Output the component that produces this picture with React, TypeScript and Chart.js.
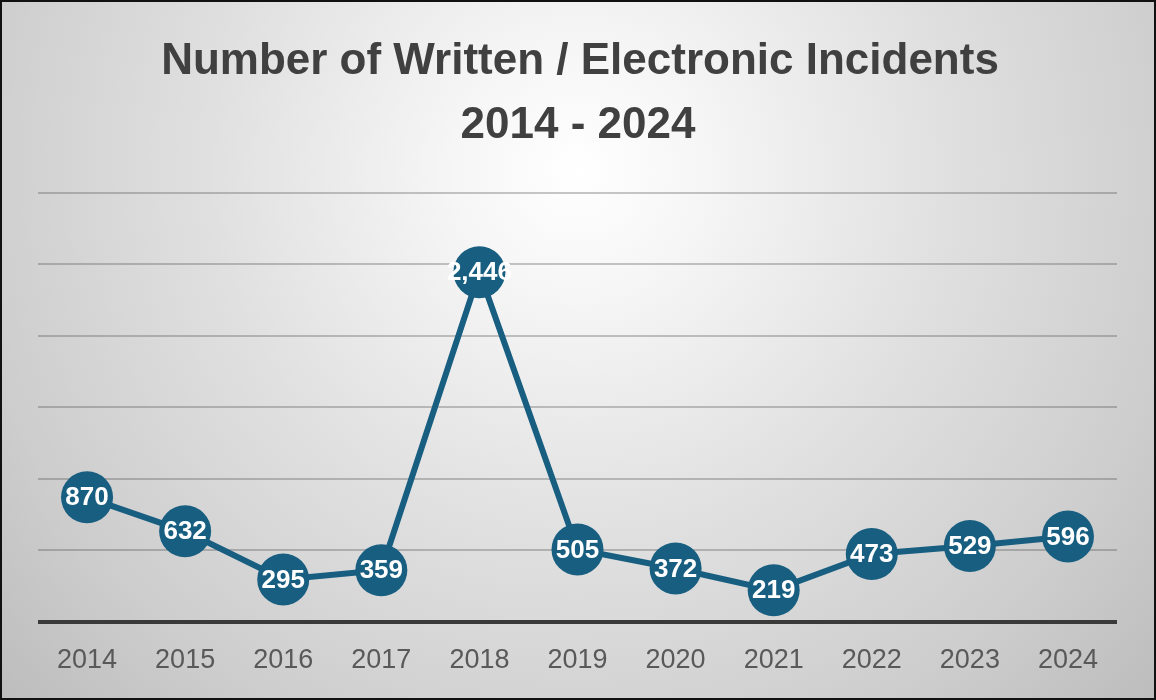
import React, { useEffect, useRef } from "react";
import { Chart, registerables } from "chart.js";

Chart.register(...registerables);

const years = ["2014", "2015", "2016", "2017", "2018", "2019", "2020", "2021", "2022", "2023", "2024"];
const incidents = [870, 632, 295, 359, 2446, 505, 372, 219, 473, 529, 596];
const titleLines = ["Number of Written / Electronic Incidents", "2014 - 2024"];
const yMin = 0;
const yMax = 3000;
const yStep = 500;

const lineColor = "#175E80";

const backgroundPlugin = {
  id: "bgPlugin",
  beforeDraw(chart: any) {
    const { ctx, width, height } = chart;
    ctx.save();
    const g = ctx.createRadialGradient(578, 170, 0, 578, 170, 820);
    g.addColorStop(0, "#ffffff");
    g.addColorStop(0.15, "#f6f6f6");
    g.addColorStop(0.45, "#e0e0e0");
    g.addColorStop(0.75, "#cdcdcd");
    g.addColorStop(1, "#b9b9b9");
    ctx.fillStyle = g;
    ctx.fillRect(0, 0, width, height);
    ctx.restore();
  },
  afterDraw(chart: any) {
    const { ctx, width, height } = chart;
    ctx.save();
    ctx.fillStyle = "#404040";
    ctx.textAlign = "center";
    ctx.textBaseline = "middle";
    ctx.font = "bold 44px 'Liberation Sans', Arial, sans-serif";
    ctx.fillText(titleLines[0], 580, 62, 846);
    ctx.fillText(titleLines[1], 578, 126, 242);
    ctx.strokeStyle = "#111111";
    ctx.lineWidth = 2;
    ctx.strokeRect(1, 1, width - 2, height - 2);
    ctx.restore();
  },
};

const labelPlugin = {
  id: "valueLabels",
  afterDatasetsDraw(chart: any) {
    const { ctx } = chart;
    const meta = chart.getDatasetMeta(0);
    const data = chart.data.datasets[0].data as number[];
    ctx.save();
    ctx.fillStyle = "#ffffff";
    ctx.textAlign = "center";
    ctx.textBaseline = "middle";
    ctx.font = "bold 26px 'Liberation Sans', Arial, sans-serif";
    meta.data.forEach((pt: any, i: number) => {
      ctx.fillText(data[i].toLocaleString("en-US"), pt.x, pt.y + 1);
    });
    ctx.restore();
  },
};

export default function App() {
  const ref = useRef<HTMLCanvasElement | null>(null);

  useEffect(() => {
    document.body.style.margin = "0";
    if (!ref.current) return;
    const chart = new Chart(ref.current, {
      type: "line",
      data: {
        labels: years,
        datasets: [
          {
            data: incidents,
            borderColor: lineColor,
            backgroundColor: lineColor,
            borderWidth: 6,
            pointRadius: 26,
            pointHoverRadius: 26,
            pointBackgroundColor: lineColor,
            pointBorderWidth: 0,
            tension: 0,
          },
        ],
      },
      options: {
        animation: false,
        responsive: false,
        layout: { padding: { top: 193, left: 38, right: 39, bottom: 0 } },
        plugins: {
          legend: { display: false },
          title: { display: false },
          tooltip: { enabled: false },
        },
        scales: {
          x: {
            offset: true,
            grid: { display: false, drawTicks: false },
            border: { display: false },
            ticks: {
              padding: 23,
              color: "#595959",
              font: { size: 27, family: "'Liberation Sans', Arial, sans-serif" },
            },
          },
          y: {
            min: yMin,
            max: yMax,
            ticks: { display: false, stepSize: yStep },
            border: { display: false },
            grid: {
              drawTicks: false,
              color: (c: any) => (c.tick && c.tick.value === 0 ? "#3a3a3a" : "rgba(70,70,70,0.3)"),
              lineWidth: (c: any) => (c.tick && c.tick.value === 0 ? 4 : 2),
            },
          },
        },
      },
      plugins: [backgroundPlugin, labelPlugin],
    });
    return () => chart.destroy();
  }, []);

  return <canvas ref={ref} width={1156} height={700} style={{ display: "block" }} />;
}
